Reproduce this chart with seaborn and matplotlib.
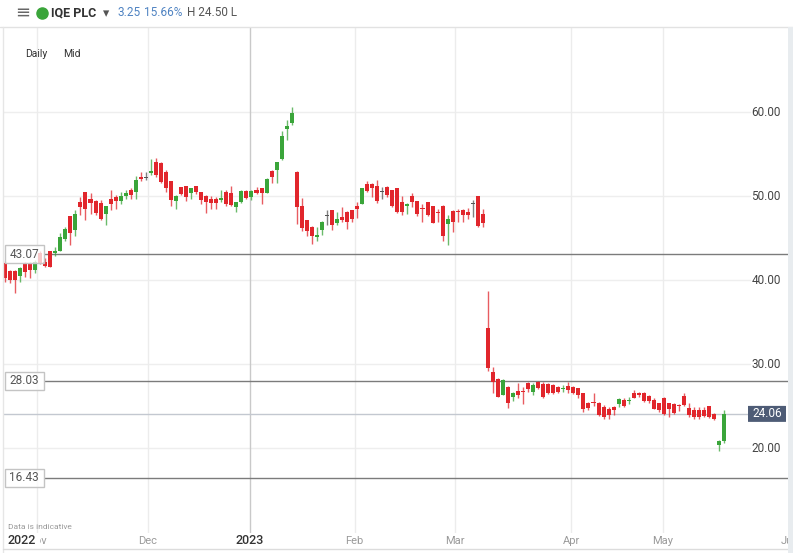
import matplotlib
matplotlib.use("Agg")
import matplotlib.pyplot as plt
import matplotlib.transforms as mtransforms
from matplotlib.lines import Line2D
from matplotlib.patches import Rectangle, FancyBboxPatch
import seaborn as sns
import numpy as np
import pandas as pd

# ---------------- data ----------------
opens = [42.06, 41.07, 41.1, 40.5, 42.0, 42.0, 41.2, 43.2, 42.1, 43.4,
         43.2, 43.5, 44.85, 47.6, 45.96, 49.3, 50.5, 49.6, 49.4, 49.2,
         47.8, 49.7, 49.9, 49.45, 50.0, 50.7, 50.5, 52.3, 52.1, 52.7,
         54.0, 53.9, 52.9, 51.8, 49.45, 51.03, 51.2, 50.3, 51.2, 50.5,
         50.0, 49.6, 49.6, 49.5, 50.5, 50.3, 48.65, 49.3, 50.6, 49.9,
         50.7, 50.9, 50.4, 53.0, 53.1, 54.4, 58.0, 58.7, 52.9, 48.8,
         47.1, 46.35, 45.1, 45.95, 47.6, 48.3, 46.75, 47.46, 48.1, 48.3,
         48.85, 49.1, 51.4, 51.4, 51.2, 50.5, 51.1, 50.7, 50.9, 49.25,
         48.8, 50.0, 49.45, 48.5, 49.25, 48.8, 48.1, 48.8, 46.7, 48.25,
         48.25, 48.3, 48.1, 49.05, 50.0, 47.9, 34.25, 29.1, 28.2, 26.3,
         27.3, 26.1, 26.8, 26.75, 27.7, 26.7, 27.9, 27.6, 27.6, 27.5,
         27.3, 27.05, 27.4, 27.3, 27.1, 26.6, 25.3, 25.45, 25.4, 24.9,
         24.7, 24.9, 25.2, 25.7, 25.55, 26.6, 26.6, 26.6, 26.2, 25.7,
         25.3, 26.0, 25.3, 25.2, 25.05, 26.2, 24.8, 24.5, 24.5, 24.5,
         25.0, 24.1, 20.4, 20.81]
closes = [40.2, 40.0, 40.0, 41.4, 41.0, 41.2, 42.1, 42.0, 41.7, 41.6,
          43.4, 45.08, 46.03, 45.6, 47.86, 48.65, 48.5, 49.2, 48.0, 47.3,
          48.8, 49.05, 49.45, 50.04, 50.3, 50.1, 51.9, 52.0, 52.1, 52.98,
          52.5, 51.7, 50.9, 49.5, 50.04, 50.2, 49.9, 50.9, 50.5, 49.5,
          49.3, 49.2, 49.2, 49.8, 49.05, 48.9, 49.25, 50.6, 49.8, 50.6,
          50.4, 50.3, 52.0, 52.3, 54.0, 57.1, 58.3, 59.9, 48.7, 46.2,
          45.8, 45.2, 45.3, 46.95, 47.6, 46.55, 47.3, 47.14, 46.95, 47.3,
          48.5, 50.9, 50.6, 50.9, 49.4, 50.5, 50.1, 48.8, 48.1, 48.1,
          49.0, 49.3, 47.9, 48.4, 47.7, 46.8, 48.0, 45.2, 47.3, 46.95,
          48.1, 47.7, 47.7, 49.05, 46.4, 46.75, 29.5, 27.9, 26.1, 28.1,
          25.3, 26.6, 26.3, 26.65, 27.0, 27.5, 27.1, 26.1, 26.5, 26.5,
          26.7, 27.15, 26.9, 26.5, 26.3, 24.7, 24.8, 25.35, 23.9, 23.7,
          23.9, 24.5, 25.8, 25.0, 25.65, 26.0, 26.3, 25.6, 25.6, 24.7,
          24.5, 24.1, 24.7, 24.2, 24.95, 25.1, 23.9, 23.65, 23.65, 23.8,
          23.7, 23.4, 20.81, 24.06]
highs = [42.3, 41.2, 41.2, 41.5, 42.1, 42.1, 42.4, 43.4, 42.6, 43.5,
         43.97, 45.6, 46.35, 47.6, 48.33, 49.9, 50.5, 50.3, 49.5, 49.5,
         48.8, 50.7, 50.1, 50.5, 50.7, 50.9, 52.4, 52.8, 52.9, 54.4,
         54.5, 54.0, 53.1, 51.8, 50.1, 51.03, 51.2, 51.0, 51.2, 50.5,
         50.1, 50.0, 49.9, 50.7, 50.7, 51.2, 49.3, 50.7, 50.7, 50.7,
         51.1, 51.0, 52.1, 53.1, 54.1, 57.7, 59.1, 60.6, 53.0, 49.8,
         47.1, 46.4, 46.35, 47.0, 48.3, 48.3, 48.1, 48.65, 48.2, 48.3,
         49.3, 51.0, 51.8, 51.5, 51.9, 51.1, 51.2, 50.7, 50.9, 50.0,
         49.2, 50.3, 49.45, 49.1, 49.25, 48.8, 48.5, 48.9, 47.7, 48.3,
         48.5, 48.5, 48.6, 49.5, 50.0, 48.5, 38.7, 29.6, 28.3, 28.2,
         27.4, 26.7, 27.7, 27.3, 27.9, 27.7, 28.0, 27.9, 27.7, 27.6,
         27.4, 27.5, 27.9, 27.4, 27.1, 26.6, 25.5, 26.6, 25.5, 25.1,
         24.9, 25.0, 25.9, 26.0, 26.1, 26.9, 26.7, 26.7, 26.3, 25.9,
         25.4, 26.1, 25.4, 25.3, 25.2, 26.5, 25.3, 24.9, 24.9, 24.9,
         25.0, 24.2, 21.0, 24.50]
lows = [39.8, 39.6, 38.5, 39.8, 40.4, 40.2, 40.8, 41.9, 41.6, 41.5,
        42.8, 43.4, 44.6, 44.2, 45.2, 47.7, 47.2, 47.9, 47.7, 47.1,
        46.5, 48.3, 48.4, 49.1, 49.7, 49.6, 49.7, 51.8, 51.9, 52.5,
        52.3, 51.5, 50.5, 48.8, 48.4, 50.1, 49.45, 49.6, 50.2, 49.05,
        48.0, 48.5, 48.5, 49.3, 48.8, 48.8, 48.1, 49.2, 49.7, 49.5,
        50.2, 49.1, 50.3, 51.6, 51.6, 54.3, 56.7, 58.5, 46.7, 45.8,
        45.2, 44.3, 44.6, 45.4, 46.55, 46.0, 46.55, 46.95, 46.1, 46.95,
        47.35, 49.0, 50.5, 49.9, 49.2, 49.6, 49.9, 48.7, 48.0, 47.7,
        47.9, 48.7, 47.6, 46.95, 47.6, 46.75, 46.95, 44.6, 44.2, 45.75,
        46.95, 46.95, 47.3, 47.5, 46.35, 46.3, 29.2, 26.5, 26.1, 26.3,
        24.8, 25.6, 26.0, 25.2, 26.7, 26.3, 27.0, 26.0, 26.4, 26.4,
        26.6, 26.7, 26.5, 26.4, 26.0, 24.3, 24.5, 25.0, 23.8, 23.5,
        23.5, 23.9, 24.9, 24.9, 25.2, 25.9, 26.1, 25.5, 25.4, 24.6,
        24.3, 23.9, 23.7, 24.1, 24.4, 25.0, 23.7, 23.4, 23.4, 23.7,
        23.6, 23.3, 19.7, 20.6]

price_ticks = [20, 30, 40, 50, 60]
level_lines = [43.07, 28.03, 16.43]
last_price = 24.06
month_labels = ["Nov", "Dec", "2023", "Feb", "Mar", "Apr", "May", "Jun"]
month_index = [7.36, 29.43, 49.7, 70.5, 90.5, 113.6, 131.8, 157.1]  # trading-day index

df = pd.DataFrame({"open": opens, "high": highs, "low": lows, "close": closes})
df["idx"] = np.arange(1, len(df) + 1)

# ---------------- style ----------------
sns.set_theme(style="white")
plt.rcParams["font.family"] = ["Roboto", "DejaVu Sans"]

W, H = 793, 553
fig = plt.figure(figsize=(W / 100, H / 100), dpi=100)
fig.patch.set_facecolor("white")

def fx(x):
    return x / W

def fy(y):
    return 1 - y / H

ax_top, ax_bot, ax_left, ax_right = 27, 533, 3, 788
ax_w = ax_right - ax_left
ax = fig.add_axes([fx(ax_left), fy(ax_bot), ax_w / W, (ax_bot - ax_top) / H])
ax.set_facecolor("white")
for s in ax.spines.values():
    s.set_visible(False)
ax.set_xticks([])
ax.set_yticks([])

PX_PER_UNIT = 8.4
ax.set_ylim(60 - (ax_bot - 112) / PX_PER_UNIT, 60 + (112 - ax_top) / PX_PER_UNIT)
ax.set_xlim((ax_left - 5) / 5.03 + 1, (ax_right - 5) / 5.03 + 1)

def axfx(x):
    return (x - ax_left) / ax_w

blend_xa = mtransforms.blended_transform_factory(ax.transAxes, ax.transData)
blend_ax = mtransforms.blended_transform_factory(ax.transData, ax.transAxes)

# gridlines
for v in price_ticks:
    ax.axhline(v, xmin=0, xmax=axfx(750), color="#eeeeee", lw=1, zorder=0)
for lab, k in zip(month_labels, month_index):
    if lab == "Jun":
        continue
    ax.axvline(k, color="#c9c9c9" if lab == "2023" else "#ececec", lw=1, zorder=0)

# level lines
for v in level_lines:
    ax.axhline(v, xmin=axfx(44), xmax=1, color="#7b7b7b", lw=1, zorder=1)
ax.axhline(last_price, xmin=0, xmax=axfx(748), color="#c3c8d0", lw=1, zorder=1)

# candles
red, green, doji = "#e1262c", "#3aa53a", "#555555"
cols = [doji if o == c else (green if c > o else red) for o, c in zip(df.open, df.close)]
ax.vlines(df.idx, df.low, df.high, colors=cols, lw=1, alpha=0.75, zorder=2)
body = np.maximum((df.close - df.open).abs(), 0.15)
bottom = np.minimum(df.open, df.close)
ax.bar(df.idx, body, bottom=bottom, width=0.8, color=cols, linewidth=0, zorder=3)

# right price labels
for v in price_ticks:
    ax.text(axfx(766), v, f"{v:.2f}", transform=blend_xa, ha="center", va="center",
            fontsize=8.5, color="#444444", zorder=5)

# left level labels (semi-transparent boxes)
half_h = 9 / PX_PER_UNIT
for v in level_lines:
    ax.add_patch(Rectangle((axfx(4.5), v - half_h), axfx(44) - axfx(4.5), 2 * half_h,
                           transform=blend_xa, facecolor="white", alpha=0.75,
                           edgecolor="none", zorder=5))
    ax.add_patch(Rectangle((axfx(4.5), v - half_h), axfx(44) - axfx(4.5), 2 * half_h,
                           transform=blend_xa, facecolor="none",
                           edgecolor="#c4c4c4", lw=1, zorder=5.5))
    ax.text(axfx(24), v, f"{v:.2f}", transform=blend_xa, ha="center", va="center",
            fontsize=8.5, color="#555555", zorder=6)

# last price box
lp_h = 8 / PX_PER_UNIT
ax.add_patch(FancyBboxPatch((axfx(748), last_price - lp_h), axfx(786) - axfx(748), 2 * lp_h,
                            boxstyle="round,pad=0,rounding_size=0.003",
                            transform=blend_xa, facecolor="#4e5c76", edgecolor="none",
                            zorder=6, mutation_aspect=2.5))
ax.text(axfx(767), last_price, f"{last_price:.2f}", transform=blend_xa, ha="center",
        va="center", fontsize=8.5, color="white", zorder=7)

# month labels
lab_y = -(541 - ax_bot) / (ax_bot - ax_top)
for lab, k in zip(month_labels, month_index):
    if lab == "2023":
        ax.text(k, lab_y, lab, transform=blend_ax, ha="center", va="center",
                fontsize=9, color="#333333", fontweight="medium", clip_on=False, zorder=6)
    else:
        ax.text(k, lab_y, lab, transform=blend_ax, ha="center", va="center",
                fontsize=8, color="#9a9a9a", clip_on=False, zorder=5)
ax.add_patch(Rectangle((axfx(4), lab_y - 0.014), axfx(39.5) - axfx(4), 0.028,
                       transform=ax.transAxes, facecolor="white", edgecolor="none",
                       clip_on=False, zorder=6.5))
ax.text(axfx(8), lab_y, "2022", transform=ax.transAxes,
        ha="left", va="center", fontsize=9, color="#333333", fontweight="medium",
        clip_on=False, zorder=7)

ax.text(axfx(8), -(527 - ax_bot) / (ax_bot - ax_top), "Data is indicative",
        transform=ax.transAxes, ha="left", va="center", fontsize=6, color="#9a9a9a",
        zorder=8)

# ---------------- header & frame ----------------
fig.add_artist(Line2D([fx(0), fx(W)], [fy(26.5), fy(26.5)], color="#e2e2e2", lw=1,
                      transform=fig.transFigure))
fig.add_artist(Line2D([fx(3), fx(3)], [fy(27), fy(553)], color="#e6e6e6", lw=1,
                      transform=fig.transFigure))
fig.add_artist(Line2D([fx(3), fx(788)], [fy(549), fy(549)], color="#dcdcdc", lw=1,
                      transform=fig.transFigure))
fig.add_artist(Rectangle((fx(788), 0), fx(5), fy(27), transform=fig.transFigure,
                         facecolor="#e8ecef", edgecolor="none", zorder=20))

fig.text(fx(15), fy(13), "≡", fontsize=13, color="#666666", va="center", ha="left",
         family=["DejaVu Sans"])
fig.add_artist(Line2D([fx(42)], [fy(13)], marker="o", markersize=8, color="#3aa53a",
                      transform=fig.transFigure))
fig.text(fx(51), fy(13), "IQE PLC", fontsize=9, fontweight="bold", color="#333333",
         va="center", ha="left")
fig.text(fx(103), fy(13.5), "▾", fontsize=9, color="#555555", va="center", ha="left",
         family=["DejaVu Sans"])
fig.text(fx(118), fy(13), "3.25", fontsize=8.5, color="#4f83c2", va="center", ha="left")
fig.text(fx(144), fy(13), "15.66%", fontsize=8.5, color="#4f83c2", va="center", ha="left")
fig.text(fx(187), fy(13), "H 24.50 L", fontsize=8.5, color="#555555", va="center", ha="left")

fig.text(fx(25), fy(54), "Daily", fontsize=7.5, color="#333333", va="center", ha="left")
fig.text(fx(63), fy(54), "Mid", fontsize=7.5, color="#333333", va="center", ha="left")

fig.savefig("out.png", dpi=100, facecolor="white")
